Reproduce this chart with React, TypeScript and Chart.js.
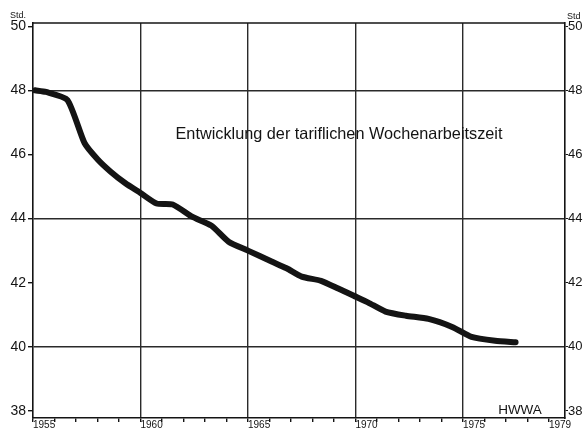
import { useEffect, useRef } from "react";
import { Chart, registerables } from "chart.js";

Chart.register(...registerables);

// Data
const years = [
  1955.1, 1955.6, 1956.6, 1957.4, 1958.0, 1958.6, 1959.3, 1960.0, 1960.75, 1961.5,
  1962.4, 1963.3, 1964.1, 1965.0, 1966.1, 1966.8, 1967.5, 1968.4, 1969.2, 1969.9,
  1970.6, 1971.4, 1972.35, 1973.4, 1974.5, 1975.4, 1976.5, 1977.45,
];
const hours = [
  48.0, 47.95, 47.7, 46.35, 45.85, 45.47, 45.1, 44.8, 44.47, 44.44,
  44.06, 43.78, 43.28, 43.0, 42.66, 42.45, 42.19, 42.06, 41.82, 41.6,
  41.38, 41.1, 40.97, 40.87, 40.62, 40.31, 40.19, 40.14,
];

const yTicks = [38, 40, 42, 44, 46, 48, 50];
const yGridValues = [40, 44, 48];
const xTickYears = [
  1955, 1956, 1957, 1958, 1959, 1960, 1961, 1962, 1963, 1964, 1965, 1966, 1967,
  1968, 1969, 1970, 1971, 1972, 1973, 1974, 1975, 1976, 1977, 1978, 1979,
];
const xLabelYears = [1955, 1960, 1965, 1970, 1975, 1979];
const xGridYears = [1960, 1965, 1970, 1975];

const titleText = "Entwicklung der tariflichen Wochenarbeitszeit";
const sourceText = "HWWA";
const unitLeft = "Std.";
const unitRight = "Std";

const INK = "#141414";
const FONT = "'Liberation Sans', Arial, sans-serif";

const annotations = {
  id: "annotations",
  afterDraw(chart: any) {
    const { ctx, chartArea } = chart;
    ctx.save();
    // top frame line
    ctx.strokeStyle = INK;
    ctx.lineWidth = 1.5;
    ctx.beginPath();
    ctx.moveTo(chartArea.left, chartArea.top);
    ctx.lineTo(chartArea.right, chartArea.top);
    ctx.stroke();

    ctx.fillStyle = INK;
    ctx.textBaseline = "middle";

    // title, fitted to the width seen in the reference
    ctx.font = `15px ${FONT}`;
    const w = ctx.measureText(titleText).width;
    const size = (15 * 327) / w;
    ctx.font = `${size.toFixed(2)}px ${FONT}`;
    ctx.textAlign = "center";
    ctx.fillText(titleText, 339, 135);

    // source
    ctx.font = `13.5px ${FONT}`;
    ctx.textAlign = "center";
    ctx.fillText(sourceText, 520, 410);

    // unit labels
    ctx.font = `9px ${FONT}`;
    ctx.textAlign = "left";
    ctx.fillText(unitLeft, 10, 16);
    ctx.fillText(unitRight, 567, 17);
    ctx.restore();
  },
};

export default function App() {
  const ref = useRef<HTMLCanvasElement | null>(null);

  useEffect(() => {
    if (!ref.current) return;
    const chart = new Chart(ref.current, {
      type: "line",
      data: {
        datasets: [
          {
            data: years.map((x, i) => ({ x, y: hours[i] })),
            borderColor: INK,
            borderWidth: 6,
            borderCapStyle: "round",
            borderJoinStyle: "round",
            pointRadius: 0,
            tension: 0.2,
            fill: false,
            yAxisID: "y",
          },
        ],
      },
      options: {
        animation: false,
        responsive: false,
        maintainAspectRatio: false,
        layout: { padding: { top: 23, left: 0, right: 0, bottom: 0 } },
        plugins: {
          legend: { display: false },
          tooltip: { enabled: false },
          title: { display: false },
        },
        scales: {
          x: {
            type: "linear",
            min: 1955,
            max: 1979.75,
            afterBuildTicks: (s: any) => {
              s.ticks = xTickYears.map((v) => ({ value: v }));
            },
            afterFit: (s: any) => {
              s.height = 17;
            },
            ticks: {
              autoSkip: false,
              maxRotation: 0,
              minRotation: 0,
              align: "start",
              padding: -3,
              color: INK,
              font: { family: FONT, size: 10 },
              callback: (v: any) => (xLabelYears.includes(Number(v)) ? String(v) : ""),
            },
            grid: {
              color: (c: any) =>
                c.tick && xGridYears.includes(c.tick.value) ? "#2a2a2a" : "rgba(0,0,0,0)",
              lineWidth: 1.4,
              tickColor: INK,
              tickLength: 4,
              drawTicks: true,
            },
            border: { display: true, color: INK, width: 1.6 },
          },
          y: {
            position: "left",
            min: 37.78,
            max: 50.1,
            afterBuildTicks: (s: any) => {
              s.ticks = yTicks.map((v) => ({ value: v }));
            },
            afterFit: (s: any) => {
              s.width = 33;
            },
            ticks: {
              padding: 2,
              color: INK,
              font: { family: FONT, size: 14 },
              callback: (v: any) => String(v),
            },
            grid: {
              color: (c: any) =>
                c.tick && yGridValues.includes(c.tick.value) ? "#2a2a2a" : "rgba(0,0,0,0)",
              lineWidth: 1.4,
              tickColor: INK,
              tickLength: 5,
            },
            border: { display: true, color: INK, width: 1.6 },
          },
          y2: {
            position: "right",
            min: 37.78,
            max: 50.1,
            afterBuildTicks: (s: any) => {
              s.ticks = yTicks.map((v) => ({ value: v }));
            },
            afterFit: (s: any) => {
              s.width = 21;
            },
            ticks: {
              padding: 0,
              color: INK,
              font: { family: FONT, size: 13 },
              callback: (v: any) => String(v),
            },
            grid: {
              drawOnChartArea: false,
              tickColor: INK,
              tickLength: 3,
            },
            border: { display: true, color: INK, width: 1.6 },
          },
        },
      },
      plugins: [annotations],
    } as any);
    return () => chart.destroy();
  }, []);

  return (
    <div style={{ position: "fixed", left: 0, top: 0, width: 586, height: 435, background: "#fff" }}>
      <canvas ref={ref} width={586} height={435} />
    </div>
  );
}
